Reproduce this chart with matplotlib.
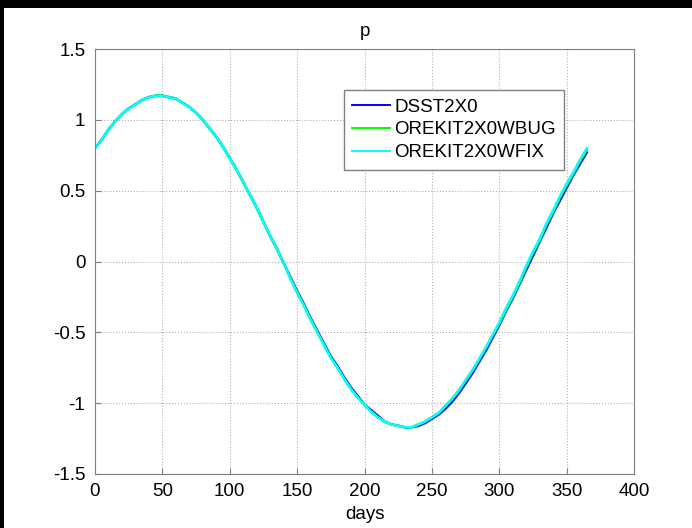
import matplotlib.pyplot as plt
from matplotlib.patches import Rectangle

plt.rcParams['font.family'] = ['Liberation Sans', 'DejaVu Sans']

# days sampled every 5 days, last point at 365
days = list(range(0, 361, 5)) + [365]

# p values
dsst = [0.80, 0.86, 0.93, 0.99, 1.04, 1.08, 1.11, 1.14, 1.16, 1.17,
        1.17, 1.16, 1.15, 1.12, 1.09, 1.05, 1.00, 0.94, 0.88, 0.81,
        0.73, 0.65, 0.56, 0.47, 0.38, 0.28, 0.18, 0.09, -0.01, -0.11,
        -0.21, -0.30, -0.40, -0.49, -0.58, -0.67, -0.74, -0.82, -0.89, -0.95,
        -1.01, -1.05, -1.09, -1.13, -1.15, -1.16, -1.17, -1.17, -1.16, -1.14,
        -1.11, -1.08, -1.04, -0.99, -0.93, -0.86, -0.79, -0.71, -0.63, -0.54,
        -0.45, -0.35, -0.26, -0.16, -0.06, 0.04, 0.14, 0.24, 0.34, 0.43,
        0.52, 0.61, 0.69, 0.77]
orekit_bug = [0.80, 0.86, 0.93, 0.99, 1.04, 1.08, 1.11, 1.14, 1.16, 1.17,
              1.17, 1.16, 1.15, 1.12, 1.09, 1.05, 1.00, 0.94, 0.88, 0.81,
              0.73, 0.65, 0.56, 0.47, 0.38, 0.28, 0.18, 0.09, -0.01, -0.12,
              -0.22, -0.31, -0.41, -0.50, -0.59, -0.68, -0.75, -0.83, -0.90, -0.96,
              -1.01, -1.06, -1.10, -1.13, -1.15, -1.16, -1.17, -1.17, -1.15, -1.13,
              -1.10, -1.07, -1.02, -0.97, -0.91, -0.84, -0.77, -0.69, -0.61, -0.52,
              -0.44, -0.34, -0.25, -0.15, -0.04, 0.06, 0.15, 0.26, 0.35, 0.45,
              0.54, 0.62, 0.71, 0.79]
orekit_fix = [0.80, 0.86, 0.93, 0.99, 1.04, 1.08, 1.11, 1.14, 1.16, 1.17,
              1.17, 1.16, 1.15, 1.12, 1.09, 1.05, 1.00, 0.94, 0.88, 0.81,
              0.73, 0.65, 0.56, 0.47, 0.38, 0.28, 0.18, 0.09, -0.01, -0.12,
              -0.22, -0.31, -0.41, -0.50, -0.59, -0.68, -0.75, -0.83, -0.90, -0.96,
              -1.01, -1.06, -1.10, -1.13, -1.15, -1.16, -1.17, -1.17, -1.15, -1.13,
              -1.10, -1.07, -1.02, -0.97, -0.91, -0.84, -0.77, -0.69, -0.61, -0.52,
              -0.43, -0.33, -0.24, -0.14, -0.03, 0.07, 0.16, 0.27, 0.36, 0.46,
              0.55, 0.63, 0.72, 0.80]

labels = ['DSST2X0', 'OREKIT2X0WBUG', 'OREKIT2X0WFIX']
colors = ['#0000ff', '#00ff00', '#00ffff']

fig = plt.figure(figsize=(6.92, 5.28), dpi=100, facecolor='white')
# thin black band along the top and left edges
fig.patches.append(Rectangle((0, 1 - 8 / 528), 1, 8 / 528, transform=fig.transFigure,
                             facecolor='black', edgecolor='none'))
fig.patches.append(Rectangle((0, 0), 4 / 692, 1, transform=fig.transFigure,
                             facecolor='black', edgecolor='none'))

ax = fig.add_axes([95 / 692, 1 - 474 / 528, 539 / 692, 425 / 528])
for ys, lab, c in zip([dsst, orekit_bug, orekit_fix], labels, colors):
    ax.plot(days, ys, color=c, linewidth=1.8, label=lab)

ax.set_xlim(0, 400)
ax.set_ylim(-1.5, 1.5)
ax.set_xticks(range(0, 401, 50))
ax.set_yticks([-1.5, -1, -0.5, 0, 0.5, 1, 1.5])
ax.set_yticklabels(['-1.5', '-1', '-0.5', '0', '0.5', '1', '1.5'])
ax.grid(True, linestyle=':', color='#b0b0b0', linewidth=0.8)
ax.tick_params(direction='in', labelsize=13.5, color='#808080', length=4)
ax.tick_params(axis='x', pad=6.5)
ax.tick_params(axis='y', pad=7)
for s in ax.spines.values():
    s.set_color('#808080')

ax.set_xlabel('days', fontsize=13.5, labelpad=4)
ax.set_title('p', fontsize=13.5, pad=9)

leg = ax.legend(loc='upper left', bbox_to_anchor=(0.462, 0.9035), borderaxespad=0, fontsize=13.5,
                fancybox=False, edgecolor='#808080', framealpha=1, handlelength=2.0,
                borderpad=0.45, labelspacing=0.3, handletextpad=0.22)
for line in leg.get_lines():
    line.set_linewidth(1.4)

fig.savefig('out.png', dpi=100, facecolor=fig.get_facecolor())
